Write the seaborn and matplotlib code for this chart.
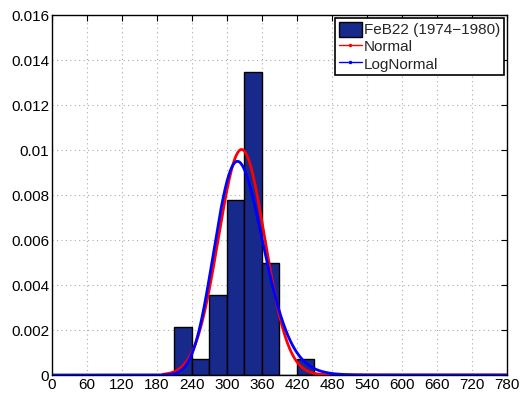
import numpy as np
import pandas as pd
import matplotlib
matplotlib.use("Agg")
import matplotlib.pyplot as plt
from matplotlib.lines import Line2D
from matplotlib.patches import Patch
import seaborn as sns

# Histogram (density) of FeB22 values, bin width 30
bin_edges = [210, 240, 270, 300, 330, 360, 390, 420, 450]
bin_density = [0.00213, 0.00073, 0.00356, 0.00778, 0.01345, 0.00497, 0.0, 0.00073]

# Fitted distribution parameters
normal_mean = 325.0
normal_std = 39.8
lognormal_mu = 5.779
lognormal_sigma = 0.131

x_ticks = list(range(0, 781, 60))
y_ticks = [0, 0.002, 0.004, 0.006, 0.008, 0.01, 0.012, 0.014, 0.016]
y_tick_labels = ["0", "0.002", "0.004", "0.006", "0.008", "0.01", "0.012", "0.014", "0.016"]

bar_color = "#17298b"

sns.set_style("white")
plt.rcParams["font.family"] = ["Liberation Sans", "DejaVu Sans"]
plt.rcParams["font.size"] = 11

fig = plt.figure(figsize=(5.21, 3.94), dpi=100)
ax = fig.add_axes([0.0998, 0.0482, 0.8733, 0.9137])

centers = [(a + b) / 2 for a, b in zip(bin_edges[:-1], bin_edges[1:])]
hist_df = pd.DataFrame({"x": centers, "w": bin_density})
sns.histplot(data=hist_df, x="x", weights="w", bins=bin_edges, stat="count",
             color=bar_color, alpha=1.0, edgecolor="black", linewidth=1.0,
             ax=ax, zorder=2)

xn = np.linspace(190, 780, 800)
yn = np.exp(-0.5 * ((xn - normal_mean) / normal_std) ** 2) / (normal_std * np.sqrt(2 * np.pi))
xl = np.linspace(0.5, 780, 1200)
yl = np.exp(-0.5 * ((np.log(xl) - lognormal_mu) / lognormal_sigma) ** 2) / (
    xl * lognormal_sigma * np.sqrt(2 * np.pi))

sns.lineplot(x=xn, y=yn, color="red", linewidth=2.0, ax=ax, zorder=3)
sns.lineplot(x=xl, y=yl, color="blue", linewidth=2.0, ax=ax, zorder=4)

ax.set_xlim(0, 780)
ax.set_ylim(0, 0.016)
ax.set_xticks(x_ticks)
ax.set_xticklabels([str(t) for t in x_ticks])
ax.set_yticks(y_ticks)
ax.set_yticklabels(y_tick_labels)
ax.set_xlabel("")
ax.set_ylabel("")

ax.grid(True, linestyle=(0, (1, 3)), color="#aaaaaa", linewidth=0.8, zorder=0)
ax.set_axisbelow(True)
ax.tick_params(direction="in", length=4, width=0.8, top=True, right=True,
               labelsize=11, pad=2, colors="black")
for s in ax.spines.values():
    s.set_visible(True)
    s.set_color("black")
    s.set_linewidth(1.0)

handles = [
    Patch(facecolor=bar_color, edgecolor="black", linewidth=1.0),
    Line2D([], [], color="red", linewidth=1.0, marker=".", markersize=3),
    Line2D([], [], color="blue", linewidth=1.0, marker=".", markersize=3),
]
labels = ["FeB22 (1974\u22121980)", "Normal", "LogNormal"]
leg = ax.legend(handles, labels, loc="upper right", fontsize=11, frameon=True,
                fancybox=False, borderpad=0.25, labelspacing=0.1,
                handlelength=1.5, handleheight=1.1, handletextpad=0.15,
                borderaxespad=0.2)
leg.get_frame().set_edgecolor("black")
leg.get_frame().set_linewidth(1.2)
leg.get_frame().set_alpha(1.0)

fig.savefig("out.png", dpi=100)
